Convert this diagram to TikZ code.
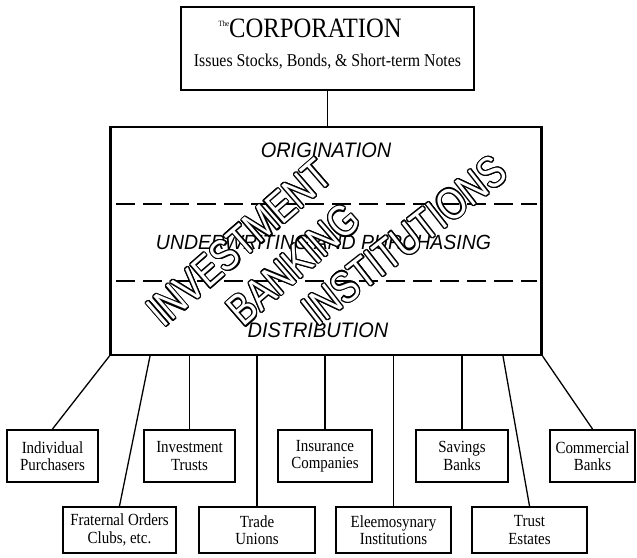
\documentclass[tikz,border=0pt]{standalone}
\usepackage{fontspec}
\setmainfont{Liberation Serif}[FakeStretch=0.88]
\newfontfamily\labfont{Liberation Sans}[FakeStretch=0.95]
\newfontfamily\bigfont{Liberation Sans}[FakeStretch=0.8]
\usepackage[copies]{contour}
\contourlength{1.2pt}
\contournumber{16}
\tikzset{
  box/.style={draw, line width=2pt, align=center, font=\fontsize{17}{17.5}\selectfont, inner sep=0pt},
  link/.style={line width=1.3pt},
  sect/.style={font=\labfont\itshape\fontsize{21}{22}\selectfont},
  hollow/.style={font=\bigfont\fontsize{44}{46}\selectfont, rotate=40, inner sep=0pt},
  divider/.style={line width=1.6pt, dash pattern=on 19pt off 8pt}
}
\begin{document}
\begin{tikzpicture}[x=1pt,y=-1pt]
\useasboundingbox (0,0) rectangle (637,557);
% top box
\node[box, minimum width=293pt, minimum height=83pt] (corp) at (327.5,48.5) {};
\node[font=\fontsize{28}{30}\selectfont, anchor=base] (corptitle) at (310,37) {\raisebox{11pt}{\fontsize{8}{9}\selectfont The}CORPORATION};
\node[font=\fontsize{18}{20}\selectfont, anchor=base] (corpsub) at (327.5,66) {Issues Stocks, Bonds, \& Short-term Notes};
% big box
\node[draw, line width=2.2pt, minimum width=431pt, minimum height=228pt, inner sep=0pt] (ibi) at (326,241) {};
\coordinate (d1l) at (116,204); \coordinate (d1r) at (537,204);
\coordinate (d2l) at (116,281); \coordinate (d2r) at (537,281);
\draw[divider] (d1l) -- (d1r);
\draw[divider] (d2l) -- (d2r);
\node[sect] (orig) at (326,150) {ORIGINATION};
\node[sect, font=\labfont\itshape\fontsize{20.5}{22}\selectfont] (under) at (323.5,242) {UNDERWRITING AND PURCHASING};
\node[sect] (dist) at (318,330) {DISTRIBUTION};
\node[hollow, rotate=1] (inv) at (240,243) {\contour{black}{\textcolor{white}{INVESTMENT}}};
\node[hollow, rotate=1] (bank) at (294,265) {\contour{black}{\textcolor{white}{BANKING}}};
\node[hollow, rotate=-2] (inst) at (405,241) {\contour{black}{\textcolor{white}{INSTITUTIONS}}};
% connector top
\draw[link] (corp.south) -- (corp.south |- ibi.north);
% row 1 boxes
\node[box, minimum width=91pt, minimum height=52pt] (indiv) at (52.5,456) {Individual\\Purchasers};
\node[box, minimum width=91pt, minimum height=52pt] (invt) at (189.5,456) {Investment\\Trusts};
\node[box, minimum width=94pt, minimum height=52pt] (insur) at (325,456) {Insurance\\Companies};
\node[box, minimum width=92pt, minimum height=52pt] (sav) at (462,456) {Savings\\Banks};
\node[box, minimum width=85pt, minimum height=52pt] (comm) at (592.5,456) {Commercial\\Banks};
% row 2 boxes
\node[box, minimum width=113pt, minimum height=46pt] (frat) at (119.5,530) {Fraternal Orders\\Clubs, etc.};
\node[box, minimum width=116pt, minimum height=46pt] (trade) at (257,530) {Trade\\Unions};
\node[box, minimum width=115pt, minimum height=46pt] (eleem) at (393.5,530) {Eleemosynary\\Institutions};
\node[box, minimum width=115pt, minimum height=46pt] (trust) at (529.5,530) {Trust\\Estates};
% connectors
\draw[link] (ibi.south west) -- (indiv.north);
\draw[link] (150,0 |- ibi.south) -- (frat.north);
\draw[link] (invt.north |- ibi.south) -- (invt.north);
\draw[link] (trade.north |- ibi.south) -- (trade.north);
\draw[link] (insur.north |- ibi.south) -- (insur.north);
\draw[link] (eleem.north |- ibi.south) -- (eleem.north);
\draw[link] (sav.north |- ibi.south) -- (sav.north);
\draw[link] (503,0 |- ibi.south) -- (trust.north);
\draw[link] (ibi.south east) -- (comm.north);
\end{tikzpicture}
\end{document}
